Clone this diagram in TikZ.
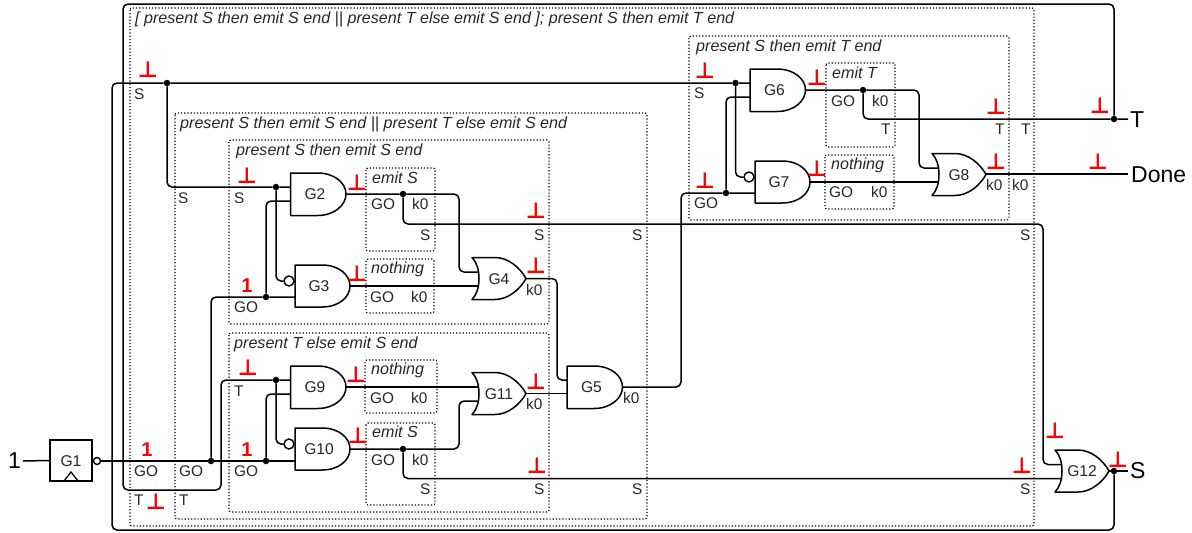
\documentclass[tikz,border=0pt]{standalone}
\usepackage{fontspec}
\setmainfont{Liberation Sans}
\newfontfamily\symf{DejaVu Sans}
\newcommand\fs[1]{\fontsize{#1}{#1}\selectfont}
\tikzset{
  wire/.style={line width=1.5pt,rounded corners=5pt,black},
  gateline/.style={line width=1.5pt,black,fill=white,line join=round},
  region/.style={dotted,line width=1.2pt,rounded corners=2pt,black},
  lbl/.style={anchor=base west,inner sep=0pt,font=\fs{15.4},text=black!85},
  ital/.style={anchor=base west,inner sep=0pt,font=\fs{16.1}\itshape,text=black!85},
  bot/.style={anchor=base,inner sep=0pt,font=\symf\fs{22}\bfseries,text=red},
  one/.style={anchor=base,inner sep=0pt,font=\fs{20}\bfseries,text=red},
  big/.style={anchor=base west,inner sep=0pt,font=\fs{23},text=black},
  glab/.style={inner sep=0pt,font=\fs{15.6},text=black!85},
  junction/.style={circle,fill=black,inner sep=0pt,minimum size=6.5pt},
  bubble/.style={circle,draw=black,line width=1.4pt,fill=white,inner sep=0pt,minimum size=#1},
}
% name, left x, top y
\newcommand\andgate[3]{%
  \begin{scope}[shift={(#2,#3)}]
    \draw[gateline] (0,0) -- (27,0) .. controls (44,0) and (55.5,10) .. (55.5,21)
      .. controls (55.5,32) and (44,42.5) .. (27,42.5) -- (0,42.5) -- cycle;
    \node[glab] (#1) at (24.5,21.5) {#1};
    \coordinate (#1a) at (0,14);
    \coordinate (#1b) at (0,28);
    \coordinate (#1o) at (55.5,21);
  \end{scope}}
\newcommand\andinv[3]{%
  \begin{scope}[shift={(#2,#3)}]
    \draw[gateline] (0,0) -- (27,0) .. controls (44,0) and (55,10) .. (55,21)
      .. controls (55,32) and (44,42) .. (27,42) -- (0,42) -- cycle;
    \node[glab] (#1) at (24,21.5) {#1};
    \node[bubble=10pt] (#1n) at (-6,16) {};
    \coordinate (#1b) at (0,32);
    \coordinate (#1o) at (55,21);
  \end{scope}}
\newcommand\orgate[3]{%
  \begin{scope}[shift={(#2,#3)}]
    \draw[gateline] (0,0) -- (23,0) .. controls (36,0) and (48,10) .. (54,21)
      .. controls (48,32) and (36,42) .. (23,42) -- (0,42)
      .. controls (5,37) and (7,29) .. (7,21) .. controls (7,13) and (5,5) .. (0,0) -- cycle;
    \node[glab] (#1) at (27,21.5) {#1};
    \coordinate (#1a) at (7,14.5);
    \coordinate (#1b) at (7,28.5);
    \coordinate (#1o) at (54,21);
  \end{scope}}
\begin{document}
\begin{tikzpicture}[x=1pt,y=-1pt]
\useasboundingbox (0,0) rectangle (1192,533);
% regions
\foreach \n/\a/\b/\c/\d in {Outer/130/8/1034/526,Mid/175/113/647/519,RA/229/140/549/324,RB/229/333/549/512,
  RC/689/36/1009/220,eS/366/168/435/251,nA/366/259/434/313,nB/365/360/437/413,eSb/366/423/435/505,
  eT/826/63/895/147,nC/825/155/894/209}
  \draw[region] (\a,\b) rectangle (\c,\d) node[coordinate] (\n) {};
% gates
\andgate{G2}{290.5}{173}
\andinv{G3}{295}{265}
\andgate{G9}{290.5}{366}
\andinv{G10}{295}{428}
\orgate{G4}{472}{257.5}
\orgate{G11}{472}{372.5}
\andgate{G5}{567}{366}
\andgate{G6}{750}{69}
\andinv{G7}{755}{161}
\orgate{G8}{932}{153.5}
\orgate{G12}{1055}{450}
% G1
\node[draw=black,line width=1.4pt,fill=white,minimum width=42pt,minimum height=41pt,inner sep=0pt] (G1box) at (71,460.5) {};
\node[glab] (G1) at (71,461) {G1};
\node[coordinate] (clkL) at (64,481) {};
\node[coordinate] (clkT) at (71,472) {};
\node[coordinate] (clkR) at (78,481) {};
\draw[line width=1.3pt] (clkL) -- (clkT) -- (clkR);
\node[bubble=7pt] (G1n) at (97,461) {};
% junctions
\node[junction] (jS) at (167,83) {};
\node[junction] (jG2) at (276,187) {};
\node[junction] (jG3) at (266,297) {};
\node[junction] (jGO) at (211,461) {};
\node[junction] (jG10) at (266,461) {};
\node[junction] (jG9) at (276,380) {};
\node[junction] (jeS) at (403,194) {};
\node[junction] (jeSb) at (403,449) {};
\node[junction] (jG6) at (735.5,83) {};
\node[junction] (jG7) at (726,193) {};
\node[junction] (jeT) at (863,90) {};
\node[junction] (jT) at (1114,119) {};
\node[junction] (jOut) at (1114,471) {};
% free ends
\coordinate (inOne) at (23,461);
\coordinate (endT) at (1128,119);
\coordinate (endDone) at (1128,174);
\coordinate (endS) at (1128,471);
% bends
\foreach \n/\x/\y in {tA/1114/4,tB/123/4,tC/123/490,tD/221/490,tE/221/380,
  sA/1114/530,sB/112/530,sC/112/83,sD/167/187,
  gA/211/297,gB/266/394,gC/266/201,
  nG3/276/281,nG10/276/444,
  oG2/459/194,oG2d/459/272,oS/403/224,oSr/1043/224,oSd/1043/464.5,
  oG10/459/449,oG10u/459/401,oSb/403/478.5,
  oG4/557/278.5,oG4d/557/380,
  oG5/681/387,oG5u/681/193,
  gD/726/97,nG7/735.5/177,
  oG6/919/90,oG6d/919/168,oT/863/119}
  \coordinate (\n) at (\x,\y);
% connectors
\draw[wire] (inOne) -- (G1box.west);
\draw[wire] (G1n.east) -- (jGO) -- (jG10) -- (G10b |- jG10);
\draw[wire] (jT) -- (tA) -- (tB) -- (tC) -- (tD) -- (tE) -- (jG9) -- (G9a);
\draw[wire] (jOut) -- (sA) -- (sB) -- (sC) -- (jS) -- (jG6) -- (G6a);
\draw[wire] (jS) -- (sD) -- (jG2) -- (G2a);
\draw[wire] (jGO) -- (gA) -- (jG3) -- (G3b);
\draw[wire] (jG10) -- (gB) -- (G9b);
\draw[wire] (jG3) -- (gC) -- (G2b);
\draw[wire] (jG2) -- (nG3) -- (G3n.west);
\draw[wire] (jG9) -- (nG10) -- (G10n.west);
\draw[wire] (G2o) -- (jeS) -- (oG2) -- (oG2d) -- (G4a);
\draw[wire] (jeS) -- (oS) -- (oSr) -- (oSd) -- (G12a);
\draw[wire] (G3o) -- (G4b);
\draw[wire] (G9o) -- (G11a);
\draw[wire] (G10o) -- (jeSb) -- (oG10) -- (oG10u) -- (G11b);
\draw[wire] (jeSb) -- (oSb) -- (G12b);
\draw[wire] (G4o) -- (oG4) -- (oG4d) -- (G5a);
\draw[wire] (G11o) -- (G5b |- G11o);
\draw[wire] (G5o) -- (oG5) -- (oG5u) -- (jG7) -- (G7b);
\draw[wire] (jG7) -- (gD) -- (G6b);
\draw[wire] (jG6) -- (nG7) -- (G7n.west);
\draw[wire] (G6o) -- (jeT) -- (oG6) -- (oG6d) -- (G8a);
\draw[wire] (jeT) -- (oT) -- (jT) -- (endT);
\draw[wire] (G7o) -- (G8b);
\draw[wire] (G8o |- endDone) -- (endDone);
\draw[wire] (G12o) -- (jOut) -- (endS);
% region titles
\foreach \x/\y/\t in {135/23/{[ present S then emit S end || present T else emit S end ]; present S then emit T end},
  180/128/{present S then emit S end || present T else emit S end},
  236/155/{present S then emit S end},234/348/{present T else emit S end},
  696/51/{present S then emit T end},
  372/183/{emit S},371/273/{nothing},371/374/{nothing},372/437/{emit S},
  832/78/{emit T},831/169/{nothing}}
  \node[ital] (I\x-\y) at (\x,\y) {\t};
% signal labels
\foreach \x/\y/\t in {134/99/S,178/203/S,234/203/S,134/505/T,179/505/T,134/476/GO,179/476/GO,234/476/GO,
  234/312/GO,234/396/T,371/209/GO,412/209/k0,420/240/S,534/240/S,632/240/S,1020/240/S,
  370/302/GO,411/302/k0,526/295/k0,370/403/GO,411/403/k0,526/409/k0,371/465/GO,412/465/k0,
  420/494/S,534/494/S,632/494/S,623/403/k0,1020/494/S,694/98/S,694/208/GO,831/106/GO,872/106/k0,
  881/134/T,995/134/T,1021/134/T,829/197/GO,871/197/k0,986/190/k0,1012/190/k0}
  \node[lbl] (L\x-\y) at (\x,\y) {\t};
% values
\foreach \x/\y in {148/77,247/183,357/190,357/281,248/375,356/382,358/443,156/509,536/218,536/273,536/389,537/473,
  705/78,817/85,817/176,705/188,996/114,996/169,1100/113,1098/169,1055/438,1022/473,1118/467}
  \node[bot] (B\x-\y) at (\x,\y) {⊥};
\foreach \x/\y in {247/292,147/456,247/456}
  \node[one] (V\x-\y) at (\x,\y) {1};
% terminals
\node[big] (Tin) at (8,468) {1};
\node[big] (Tout) at (1130,127) {T};
\node[big] (Dout) at (1131,182) {Done};
\node[big] (Sout) at (1130,478) {S};
\end{tikzpicture}
\end{document}
